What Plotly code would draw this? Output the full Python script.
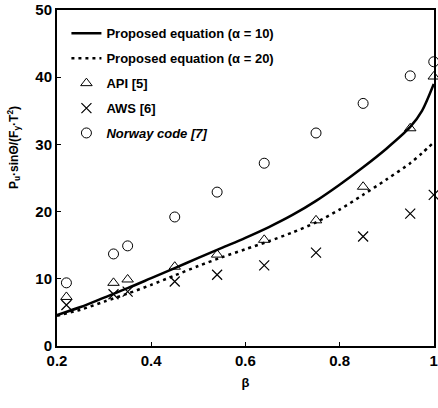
import plotly.graph_objects as go

# Curves (beta vs value)
beta_curve = [0.2, 0.25, 0.3, 0.35, 0.4, 0.45, 0.5, 0.55, 0.6, 0.65, 0.7, 0.75, 0.8, 0.85, 0.9, 0.95, 0.975, 1.0]
alpha10 = [4.6, 5.8, 7.2, 8.6, 10.1, 11.6, 13.1, 14.6, 16.1, 17.7, 19.5, 21.6, 24.0, 26.6, 29.4, 32.6, 35.0, 39.0]
alpha20 = [4.5, 5.4, 6.6, 7.8, 9.1, 10.5, 11.9, 13.2, 14.4, 15.6, 16.9, 18.4, 20.3, 22.5, 24.8, 27.2, 28.7, 30.3]

# Code predictions
beta_pts = [0.22, 0.32, 0.35, 0.45, 0.54, 0.64, 0.75, 0.85, 0.95, 1.0]
api = [7.3, 9.4, 9.9, 11.8, 13.6, 15.8, 18.7, 23.7, 32.4, 40.1]
aws = [6.1, 7.7, 8.1, 9.6, 10.6, 12.0, 13.9, 16.3, 19.7, 22.5]
norway = [9.4, 13.7, 14.9, 19.2, 22.9, 27.2, 31.7, 36.1, 40.2, 42.3]

x_ticks = [0.2, 0.4, 0.6, 0.8, 1.0]
x_ticktext = ["0.2", "0.4", "0.6", "0.8", "1"]
y_ticks = [0, 10, 20, 30, 40, 50]

FONT = "Liberation Sans, Arial, sans-serif"

fig = go.Figure()
fig.add_trace(go.Scatter(x=beta_curve, y=alpha10, mode="lines",
                         line=dict(color="black", width=2.5, shape="spline", smoothing=0.8),
                         name="<b>Proposed equation (α = 10)</b>", legendgroup="a", cliponaxis=False))
fig.add_trace(go.Scatter(x=beta_curve, y=alpha20, mode="lines",
                         line=dict(color="black", width=2.5, dash="3px,4px", shape="spline", smoothing=0.8),
                         name="<b>Proposed equation (α = 20)</b>", legendgroup="b", cliponaxis=False))
fig.add_trace(go.Scatter(x=beta_pts, y=api, mode="markers",
                         marker=dict(symbol="triangle-up-open", size=10, color="black", line=dict(width=1)),
                         name="<b>API [5]</b>", legendgroup="c", cliponaxis=False))
fig.add_trace(go.Scatter(x=beta_pts, y=aws, mode="markers",
                         marker=dict(symbol="x-thin-open", size=10, color="black", line=dict(width=1.2, color="black")),
                         name="<b>AWS [6]</b>", legendgroup="d", cliponaxis=False))
fig.add_trace(go.Scatter(x=beta_pts, y=norway, mode="markers",
                         marker=dict(symbol="circle-open", size=10, color="black", line=dict(width=1)),
                         name="<b><i>Norway code [7]</i></b>", legendgroup="e", cliponaxis=False))

axis_common = dict(showline=True, linewidth=2, linecolor="black", mirror=True,
                   ticks="inside", ticklen=4, tickcolor="black", tickwidth=1,
                   showgrid=False, zeroline=False, automargin=False,
                   ticklabeloverflow="allow",
                   tickfont=dict(family=FONT, size=15, color="black", weight="bold"))

fig.update_xaxes(range=[0.2, 1.0005], tickvals=x_ticks, ticktext=x_ticktext,
                 title=dict(text="<b>β</b>", font=dict(family=FONT, size=13, color="black"), standoff=10),
                 **axis_common)
fig.update_yaxes(range=[0, 50], tickvals=y_ticks, **axis_common)

fig.add_annotation(xref="paper", yref="paper", x=-0.116, y=0.59, xanchor="center", yanchor="middle",
                   textangle=-90, showarrow=False,
                   text="<b>P<sub>u</sub>·sinΘ/(F<sub>y</sub>·T<sup>2</sup>)</b>",
                   font=dict(family=FONT, size=12, color="black"))

fig.update_layout(
    width=438, height=408,
    margin=dict(l=57, r=4, t=10, b=62, autoexpand=False),
    plot_bgcolor="white", paper_bgcolor="white",
    font=dict(family=FONT, color="black"),
    legend=dict(x=0.025, y=0.975, xanchor="left", yanchor="top",
                font=dict(family=FONT, size=13, color="black"),
                bgcolor="rgba(0,0,0,0)", tracegroupgap=5, itemwidth=30),
    showlegend=True,
)

fig.write_html("out.html", config={"displayModeBar": False},
               post_script="document.body.style.margin='0';document.body.style.overflow='hidden';")
